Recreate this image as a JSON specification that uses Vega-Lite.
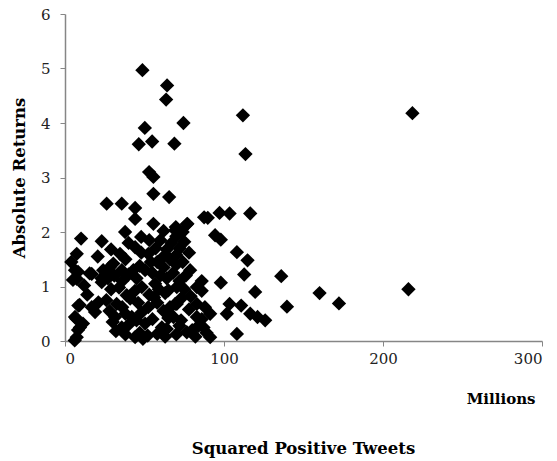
{
  "$schema": "https://vega.github.io/schema/vega-lite/v6.json",
  "width": 477,
  "height": 327,
  "autosize": {"type": "none"},
  "padding": {"left": 65, "top": 14, "right": 15, "bottom": 120},
  "background": "white",
  "title": {
    "text": "Squared Positive Tweets",
    "orient": "bottom",
    "anchor": "middle",
    "font": "DejaVu Serif",
    "fontSize": 16.5,
    "fontWeight": "bold",
    "color": "black",
    "offset": 35
  },
  "config": {
    "view": {"stroke": null},
    "axis": {
      "grid": false,
      "domainColor": "#868686",
      "domainWidth": 1.5,
      "tickColor": "#868686",
      "tickWidth": 1,
      "tickSize": 5,
      "labelFont": "DejaVu Serif",
      "labelFontSize": 15,
      "labelColor": "#222222",
      "titleFont": "DejaVu Serif",
      "titleFontWeight": "bold",
      "titleColor": "black"
    }
  },
  "data": {
    "values": [
      {"tweets": 48.7, "returns": 4.97},
      {"tweets": 64.2, "returns": 4.69},
      {"tweets": 63.6, "returns": 4.43},
      {"tweets": 111.9, "returns": 4.14},
      {"tweets": 50.2, "returns": 3.91},
      {"tweets": 74.5, "returns": 4.0},
      {"tweets": 46.4, "returns": 3.61},
      {"tweets": 54.8, "returns": 3.66},
      {"tweets": 68.8, "returns": 3.62},
      {"tweets": 113.5, "returns": 3.43},
      {"tweets": 52.9, "returns": 3.1},
      {"tweets": 55.6, "returns": 3.01},
      {"tweets": 218.5, "returns": 4.18},
      {"tweets": 160.1, "returns": 0.88},
      {"tweets": 172.3, "returns": 0.69},
      {"tweets": 216.0, "returns": 0.95},
      {"tweets": 89.8, "returns": 2.26},
      {"tweets": 97.2, "returns": 2.35},
      {"tweets": 103.5, "returns": 2.34},
      {"tweets": 116.5, "returns": 2.34},
      {"tweets": 76.6, "returns": 2.14},
      {"tweets": 94.4, "returns": 1.94},
      {"tweets": 98.0, "returns": 1.86},
      {"tweets": 108.1, "returns": 1.63},
      {"tweets": 114.8, "returns": 1.48},
      {"tweets": 112.7, "returns": 1.22},
      {"tweets": 98.0, "returns": 1.07},
      {"tweets": 136.0, "returns": 1.19},
      {"tweets": 119.6, "returns": 0.9},
      {"tweets": 139.6, "returns": 0.63},
      {"tweets": 103.5, "returns": 0.68},
      {"tweets": 110.8, "returns": 0.65},
      {"tweets": 116.5, "returns": 0.5},
      {"tweets": 121.1, "returns": 0.44},
      {"tweets": 125.9, "returns": 0.38},
      {"tweets": 108.1, "returns": 0.13},
      {"tweets": 101.8, "returns": 0.5},
      {"tweets": 91.3, "returns": 0.5},
      {"tweets": 91.3, "returns": 0.07},
      {"tweets": 82.9, "returns": 0.68},
      {"tweets": 70.3, "returns": 0.68},
      {"tweets": 82.9, "returns": 0.44},
      {"tweets": 76.6, "returns": 0.16},
      {"tweets": 87.1, "returns": 0.25},
      {"tweets": 70.3, "returns": 0.99},
      {"tweets": 82.9, "returns": 0.99},
      {"tweets": 78.7, "returns": 1.3},
      {"tweets": 86.0, "returns": 1.1},
      {"tweets": 65.5, "returns": 2.64},
      {"tweets": 55.6, "returns": 2.7},
      {"tweets": 26.2, "returns": 2.52},
      {"tweets": 35.7, "returns": 2.52},
      {"tweets": 44.1, "returns": 2.44},
      {"tweets": 44.1, "returns": 2.24},
      {"tweets": 55.6, "returns": 2.15},
      {"tweets": 69.7, "returns": 2.09},
      {"tweets": 77.0, "returns": 2.15},
      {"tweets": 87.5, "returns": 2.27},
      {"tweets": 10.1, "returns": 1.88},
      {"tweets": 23.1, "returns": 1.83},
      {"tweets": 37.8, "returns": 2.0},
      {"tweets": 47.9, "returns": 1.91},
      {"tweets": 7.4, "returns": 1.6},
      {"tweets": 20.6, "returns": 1.55},
      {"tweets": 6.3, "returns": 1.3},
      {"tweets": 7.4, "returns": 1.14},
      {"tweets": 16.8, "returns": 1.23},
      {"tweets": 23.1, "returns": 1.08},
      {"tweets": 30.4, "returns": 1.42},
      {"tweets": 35.7, "returns": 1.3},
      {"tweets": 43.0, "returns": 1.3},
      {"tweets": 50.4, "returns": 1.3},
      {"tweets": 34.6, "returns": 1.6},
      {"tweets": 44.1, "returns": 1.72},
      {"tweets": 52.4, "returns": 1.6},
      {"tweets": 62.0, "returns": 1.55},
      {"tweets": 69.3, "returns": 2.03},
      {"tweets": 8.4, "returns": 0.65},
      {"tweets": 6.3, "returns": 0.44},
      {"tweets": 16.8, "returns": 0.62},
      {"tweets": 21.0, "returns": 0.71},
      {"tweets": 18.9, "returns": 0.53},
      {"tweets": 9.4, "returns": 0.25},
      {"tweets": 7.4, "returns": 0.07},
      {"tweets": 32.5, "returns": 0.68},
      {"tweets": 38.8, "returns": 0.84},
      {"tweets": 31.5, "returns": 0.44},
      {"tweets": 35.7, "returns": 0.25},
      {"tweets": 44.1, "returns": 0.07},
      {"tweets": 52.4, "returns": 0.62},
      {"tweets": 50.4, "returns": 0.32},
      {"tweets": 60.9, "returns": 0.25},
      {"tweets": 58.0, "returns": 0.13},
      {"tweets": 68.2, "returns": 0.44},
      {"tweets": 48.3, "returns": 0.99},
      {"tweets": 56.7, "returns": 1.05},
      {"tweets": 65.0, "returns": 0.93},
      {"tweets": 69.3, "returns": 0.68},
      {"tweets": 42.0, "returns": 0.44},
      {"tweets": 8.2, "returns": 1.27},
      {"tweets": 15.5, "returns": 1.24},
      {"tweets": 5.0, "returns": 1.12},
      {"tweets": 22.9, "returns": 1.15},
      {"tweets": 9.2, "returns": 0.66},
      {"tweets": 7.1, "returns": 0.41},
      {"tweets": 11.3, "returns": 0.32},
      {"tweets": 8.2, "returns": 0.2},
      {"tweets": 6.1, "returns": 0.01},
      {"tweets": 4.0, "returns": 1.45},
      {"tweets": 28, "returns": 1.35},
      {"tweets": 38, "returns": 1.5},
      {"tweets": 47, "returns": 1.38},
      {"tweets": 54, "returns": 1.45},
      {"tweets": 27, "returns": 1.15},
      {"tweets": 31, "returns": 1.2},
      {"tweets": 36, "returns": 1.1},
      {"tweets": 40, "returns": 1.22},
      {"tweets": 45, "returns": 1.15},
      {"tweets": 55, "returns": 1.25},
      {"tweets": 29, "returns": 0.95},
      {"tweets": 34, "returns": 0.98},
      {"tweets": 44, "returns": 0.92},
      {"tweets": 53, "returns": 0.85},
      {"tweets": 26, "returns": 0.75},
      {"tweets": 36, "returns": 0.62},
      {"tweets": 41, "returns": 0.78},
      {"tweets": 46, "returns": 0.7},
      {"tweets": 56, "returns": 0.8},
      {"tweets": 28, "returns": 0.55},
      {"tweets": 38, "returns": 0.5},
      {"tweets": 48, "returns": 0.52},
      {"tweets": 30, "returns": 0.35},
      {"tweets": 40, "returns": 0.3},
      {"tweets": 45, "returns": 0.38},
      {"tweets": 55, "returns": 0.4},
      {"tweets": 32, "returns": 0.18},
      {"tweets": 38, "returns": 0.12},
      {"tweets": 47, "returns": 0.15},
      {"tweets": 52, "returns": 0.1},
      {"tweets": 49, "returns": 0.04},
      {"tweets": 58, "returns": 1.45},
      {"tweets": 62, "returns": 1.35},
      {"tweets": 66, "returns": 1.5},
      {"tweets": 70, "returns": 1.4},
      {"tweets": 74, "returns": 1.45},
      {"tweets": 60, "returns": 1.2},
      {"tweets": 64, "returns": 1.15},
      {"tweets": 68, "returns": 1.25},
      {"tweets": 72, "returns": 1.1},
      {"tweets": 76, "returns": 1.2},
      {"tweets": 59, "returns": 0.95},
      {"tweets": 63, "returns": 0.88},
      {"tweets": 75, "returns": 0.95},
      {"tweets": 79, "returns": 0.82},
      {"tweets": 86, "returns": 0.92},
      {"tweets": 58, "returns": 0.7},
      {"tweets": 62, "returns": 0.55},
      {"tweets": 66, "returns": 0.62},
      {"tweets": 73, "returns": 0.78},
      {"tweets": 78, "returns": 0.58},
      {"tweets": 88, "returns": 0.62},
      {"tweets": 65, "returns": 0.42},
      {"tweets": 73, "returns": 0.38},
      {"tweets": 86, "returns": 0.4},
      {"tweets": 64, "returns": 0.22},
      {"tweets": 72, "returns": 0.28},
      {"tweets": 80, "returns": 0.2},
      {"tweets": 84, "returns": 0.28},
      {"tweets": 89, "returns": 0.15},
      {"tweets": 63, "returns": 0.08},
      {"tweets": 70, "returns": 0.12},
      {"tweets": 82, "returns": 0.08},
      {"tweets": 57, "returns": 1.7},
      {"tweets": 60, "returns": 1.85},
      {"tweets": 64, "returns": 1.68},
      {"tweets": 67, "returns": 1.8},
      {"tweets": 70, "returns": 1.92},
      {"tweets": 72, "returns": 1.7},
      {"tweets": 75, "returns": 1.82},
      {"tweets": 70, "returns": 1.58},
      {"tweets": 78, "returns": 1.62},
      {"tweets": 74, "returns": 2.0},
      {"tweets": 62, "returns": 2.02},
      {"tweets": 29, "returns": 1.68},
      {"tweets": 40, "returns": 1.8},
      {"tweets": 48, "returns": 1.62},
      {"tweets": 53, "returns": 1.85},
      {"tweets": 14, "returns": 0.85},
      {"tweets": 12, "returns": 1.02},
      {"tweets": 24, "returns": 1.3}
    ]
  },
  "mark": {"type": "point", "shape": "diamond", "filled": true, "color": "black", "opacity": 1, "size": 205, "strokeWidth": 0},
  "encoding": {
    "x": {
      "field": "tweets",
      "type": "quantitative",
      "scale": {"domain": [0, 300], "nice": false, "zero": true},
      "axis": {
        "values": [0, 100, 200, 300],
        "title": "Millions",
        "titleFontSize": 15,
        "labelPadding": 5,
        "titleX": 470,
        "titleY": 50,
        "titleAlign": "right",
        "titleBaseline": "top",
        "titleAnchor": null
      }
    },
    "y": {
      "field": "returns",
      "type": "quantitative",
      "scale": {"domain": [0, 6], "nice": false},
      "axis": {
        "values": [0, 1, 2, 3, 4, 5, 6],
        "title": "Absolute Returns",
        "titleFontSize": 16.5,
        "labelPadding": 10,
        "titlePadding": 13
      }
    }
  }
}
